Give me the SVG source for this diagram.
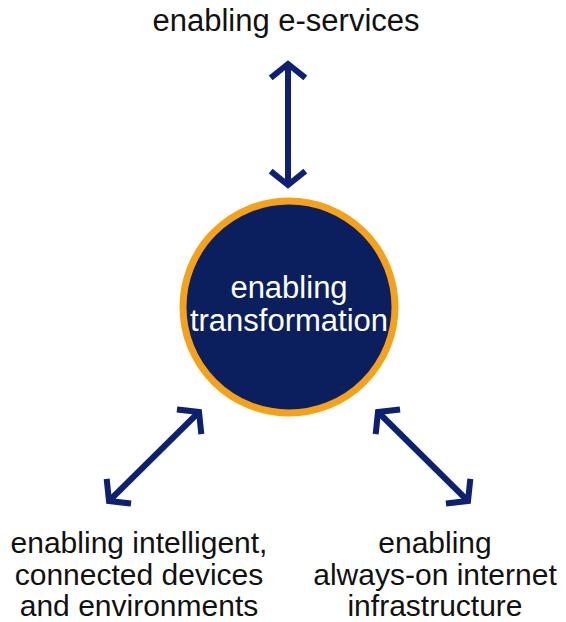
<svg xmlns="http://www.w3.org/2000/svg" width="566" height="622" viewBox="0 0 566 622">
  <style>
    .lbl { font-family: "Liberation Sans", Arial, sans-serif; font-size: 30px; fill: #111; text-anchor: middle; }
    .top { font-size: 31px; }
    .inner { font-family: "Liberation Sans", Arial, sans-serif; font-size: 31px; fill: #ffffff; text-anchor: middle; }
    .link { stroke: #0d2170; stroke-width: 6; fill: none; marker-start: url(#head); marker-end: url(#head); }
  </style>
  <defs>
    <marker id="head" viewBox="-18 -20 22 40" refX="0" refY="0" markerWidth="22" markerHeight="40" markerUnits="userSpaceOnUse" orient="auto-start-reverse">
      <path d="M-12,-15 L0,0 L-12,15" fill="none" stroke="#0d2170" stroke-width="6" stroke-linecap="square"/>
    </marker>
  </defs>
  <rect width="566" height="622" fill="#ffffff"/>

  <g id="connectors">
    <line class="link" x1="288" y1="64" x2="288" y2="185"/>
    <line class="link" x1="199" y1="412" x2="109" y2="501"/>
    <line class="link" x1="378" y1="412" x2="468" y2="501"/>
  </g>

  <g id="center">
    <circle cx="289" cy="307" r="106" fill="#0b1f5e" stroke="#f4a21c" stroke-width="7"/>
    <text class="inner" x="289" y="298">enabling</text>
    <text class="inner" x="289" y="331">transformation</text>
  </g>

  <g id="e-services">
    <text class="lbl top" x="286" y="31">enabling e-services</text>
  </g>

  <g id="devices">
    <text class="lbl" x="139" y="553">enabling intelligent,</text>
    <text class="lbl" x="139" y="585">connected devices</text>
    <text class="lbl" x="139" y="616">and environments</text>
  </g>

  <g id="infrastructure">
    <text class="lbl" x="435" y="553">enabling</text>
    <text class="lbl" x="435" y="585">always-on internet</text>
    <text class="lbl" x="435" y="616">infrastructure</text>
  </g>
</svg>
